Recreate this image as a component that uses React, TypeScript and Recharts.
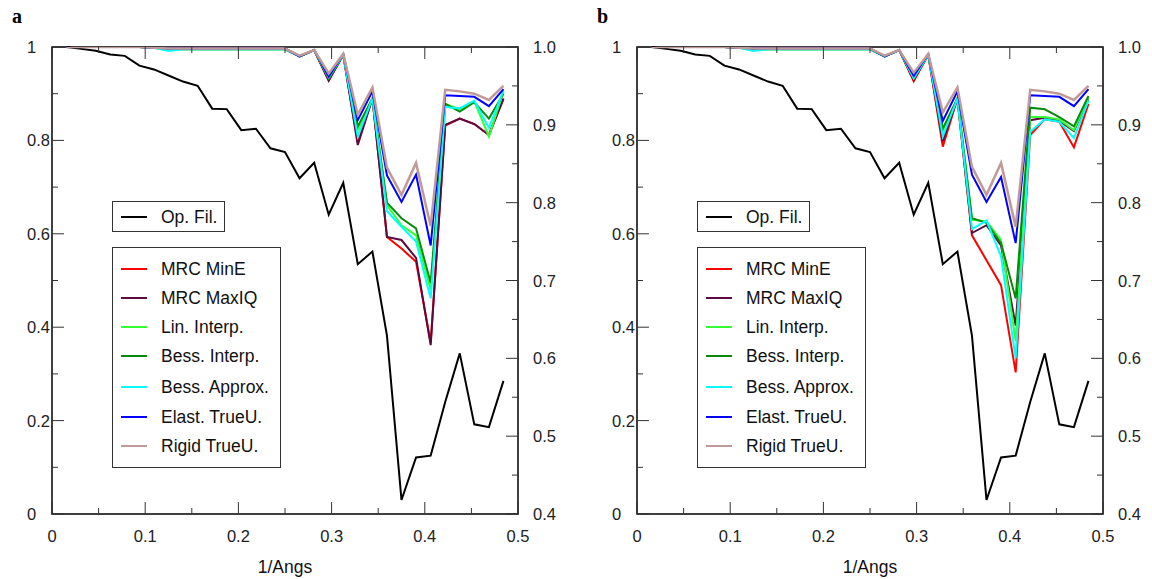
import React from "react";
import { LineChart, Line, XAxis, YAxis, ReferenceArea } from "recharts";

// spatial frequency (1/Angs)
const freq = [
  0.0156, 0.0313, 0.0469, 0.0625, 0.0781, 0.0938, 0.1094, 0.125, 0.1406, 0.1563,
  0.1719, 0.1875, 0.2031, 0.2188, 0.2344, 0.25, 0.2656, 0.2813, 0.2969, 0.3125,
  0.3281, 0.3438, 0.3594, 0.375, 0.3906, 0.4063, 0.4219, 0.4375, 0.4531, 0.4688, 0.4844,
];

// left axis
const opFil = [
  1.0, 0.996, 0.992, 0.984, 0.981, 0.96, 0.952, 0.939, 0.926, 0.917,
  0.868, 0.867, 0.822, 0.825, 0.783, 0.775, 0.719, 0.752, 0.641, 0.709,
  0.535, 0.562, 0.382, 0.03, 0.121, 0.125, 0.24, 0.344, 0.192, 0.186, 0.285,
];

// right axis, panel a
const aMinE = [
  1, 1, 1, 1, 1, 1, 0.999, 0.998, 0.998, 0.998, 0.998, 0.998, 0.998, 0.998, 0.998, 0.998,
  0.988, 0.996, 0.957, 0.99, 0.877, 0.934, 0.756, 0.741, 0.724, 0.62, 0.899, 0.908, 0.901, 0.887, 0.933,
];
const aMaxIQ = [
  1, 1, 1, 1, 1, 1, 0.999, 0.998, 0.998, 0.998, 0.998, 0.998, 0.998, 0.998, 0.998, 0.998,
  0.988, 0.996, 0.957, 0.99, 0.874, 0.934, 0.756, 0.752, 0.729, 0.617, 0.9, 0.908, 0.901, 0.887, 0.934,
];
const aLin = [
  1, 1, 1, 1, 1, 1, 0.999, 0.996, 0.997, 0.997, 0.997, 0.997, 0.997, 0.997, 0.997, 0.997,
  0.988, 0.996, 0.96, 0.99, 0.893, 0.934, 0.797, 0.771, 0.758, 0.688, 0.927, 0.92, 0.93, 0.885, 0.943,
];
const aBessI = [
  1, 1, 1, 1, 1, 1, 0.999, 0.997, 0.997, 0.997, 0.997, 0.997, 0.997, 0.997, 0.997, 0.997,
  0.988, 0.996, 0.96, 0.99, 0.898, 0.934, 0.8, 0.78, 0.767, 0.697, 0.927, 0.917, 0.929, 0.908, 0.94,
];
const aBessA = [
  1, 1, 1, 1, 1, 1, 0.999, 0.995, 0.997, 0.997, 0.997, 0.997, 0.997, 0.997, 0.997, 0.997,
  0.988, 0.996, 0.961, 0.99, 0.885, 0.934, 0.789, 0.769, 0.75, 0.677, 0.923, 0.921, 0.931, 0.896, 0.944,
];
const aElast = [
  1, 1, 1, 1, 1, 1, 0.999, 0.998, 0.998, 0.998, 0.998, 0.998, 0.998, 0.998, 0.998, 0.998,
  0.988, 0.996, 0.962, 0.991, 0.906, 0.943, 0.835, 0.801, 0.836, 0.745, 0.938, 0.937, 0.936, 0.924, 0.946,
];
const aRigid = [
  1, 1, 1, 1, 1, 1, 0.999, 0.998, 0.998, 0.998, 0.998, 0.998, 0.998, 0.998, 0.998, 0.998,
  0.989, 0.996, 0.966, 0.991, 0.913, 0.948, 0.845, 0.81, 0.851, 0.77, 0.945, 0.943, 0.94, 0.932, 0.95,
];

// right axis, panel b
const bMinE = [
  1, 1, 1, 1, 1, 1, 0.999, 0.998, 0.998, 0.998, 0.998, 0.998, 0.998, 0.998, 0.998, 0.998,
  0.988, 0.996, 0.956, 0.99, 0.872, 0.934, 0.758, 0.726, 0.694, 0.582, 0.887, 0.907, 0.904, 0.871, 0.927,
];
const bMaxIQ = [
  1, 1, 1, 1, 1, 1, 0.999, 0.998, 0.998, 0.998, 0.998, 0.998, 0.998, 0.998, 0.998, 0.998,
  0.988, 0.996, 0.958, 0.99, 0.879, 0.934, 0.761, 0.771, 0.745, 0.642, 0.906, 0.909, 0.905, 0.892, 0.933,
];
const bLin = [
  1, 1, 1, 1, 1, 1, 0.999, 0.996, 0.997, 0.997, 0.997, 0.997, 0.997, 0.997, 0.997, 0.997,
  0.988, 0.996, 0.96, 0.99, 0.892, 0.934, 0.778, 0.776, 0.752, 0.622, 0.91, 0.91, 0.907, 0.893, 0.935,
];
const bBessI = [
  1, 1, 1, 1, 1, 1, 0.999, 0.997, 0.997, 0.997, 0.997, 0.997, 0.997, 0.997, 0.997, 0.997,
  0.988, 0.996, 0.961, 0.99, 0.895, 0.934, 0.78, 0.774, 0.748, 0.677, 0.922, 0.92, 0.91, 0.898, 0.937,
];
const bBessA = [
  1, 1, 1, 1, 1, 1, 0.999, 0.995, 0.997, 0.997, 0.997, 0.997, 0.997, 0.997, 0.997, 0.997,
  0.988, 0.996, 0.96, 0.99, 0.885, 0.934, 0.766, 0.777, 0.731, 0.6, 0.891, 0.907, 0.904, 0.883, 0.931,
];
const bElast = [
  1, 1, 1, 1, 1, 1, 0.999, 0.998, 0.998, 0.998, 0.998, 0.998, 0.998, 0.998, 0.998, 0.998,
  0.988, 0.996, 0.963, 0.991, 0.905, 0.943, 0.836, 0.801, 0.833, 0.748, 0.938, 0.937, 0.936, 0.924, 0.946,
];
const bRigid = [
  1, 1, 1, 1, 1, 1, 0.999, 0.998, 0.998, 0.998, 0.998, 0.998, 0.998, 0.998, 0.998, 0.998,
  0.989, 0.996, 0.967, 0.991, 0.916, 0.948, 0.846, 0.81, 0.851, 0.769, 0.945, 0.943, 0.94, 0.932, 0.95,
];

const seriesNames = [
  "MRC MinE",
  "MRC MaxIQ",
  "Lin. Interp.",
  "Bess. Interp.",
  "Bess. Approx.",
  "Elast. TrueU.",
  "Rigid TrueU.",
];
const seriesColors = ["#ff0000", "#5c0a40", "#33ff33", "#0a8a0a", "#00ffff", "#0000ff", "#c09a98"];

const xTicks = [0, 0.05, 0.1, 0.15, 0.2, 0.25, 0.3, 0.35, 0.4, 0.45, 0.5];
const leftTicks = [0, 0.1, 0.2, 0.3, 0.4, 0.5, 0.6, 0.7, 0.8, 0.9, 1];
const rightTicks = [0.4, 0.45, 0.5, 0.55, 0.6, 0.65, 0.7, 0.75, 0.8, 0.85, 0.9, 0.95, 1];

const FONT = "'Liberation Sans', Arial, sans-serif";
const PLOT_TOP = 47;
const TICK_COLOR = "#333";

const XTick = (props: any) => {
  const { x, y, payload } = props;
  const v = payload.value;
  const major = Math.abs(v * 10 - Math.round(v * 10)) < 1e-6;
  const len = major ? 12 : 6;
  const label = v === 0 ? "0" : v.toFixed(1);
  return (
    <g>
      <line x1={x} x2={x} y1={y} y2={y - len} stroke={TICK_COLOR} strokeWidth={1} />
      <line x1={x} x2={x} y1={PLOT_TOP} y2={PLOT_TOP + len} stroke={TICK_COLOR} strokeWidth={1} />
      {major && (
        <text x={x} y={y + 28} textAnchor="middle" fontSize={16.5} fontFamily={FONT} fill="#222">
          {label}
        </text>
      )}
    </g>
  );
};

const LeftTick = (props: any) => {
  const { x, y, payload } = props;
  const v = payload.value;
  const major = Math.round(v * 10) % 2 === 0;
  const len = major ? 12 : 6;
  const label = v === 0 ? "0" : v === 1 ? "1" : v.toFixed(1);
  return (
    <g>
      <line x1={x} x2={x + len} y1={y} y2={y} stroke={TICK_COLOR} strokeWidth={1} />
      {major && (
        <text x={x - 25} y={y + 6} textAnchor="start" fontSize={16.5} fontFamily={FONT} fill="#222">
          {label}
        </text>
      )}
    </g>
  );
};

const RightTick = (props: any) => {
  const { x, y, payload } = props;
  const v = payload.value;
  const major = Math.round(v * 20) % 2 === 0;
  const len = major ? 12 : 6;
  return (
    <g>
      <line x1={x} x2={x - len} y1={y} y2={y} stroke={TICK_COLOR} strokeWidth={1} />
      {major && (
        <text x={x + 15} y={y + 6} textAnchor="start" fontSize={16.5} fontFamily={FONT} fill="#222">
          {v.toFixed(1)}
        </text>
      )}
    </g>
  );
};

const legendRowTops = [20.5, 49.5, 78.5, 108, 138.5, 168.5, 197.5];

function LegendBoxes() {
  const row = (name: string, color: string, top: number) => (
    <div key={name} style={{ position: "absolute", left: 0, top: top - 12, height: 24, width: "100%" }}>
      <div style={{ position: "absolute", left: 8, top: 11, width: 26, height: 2, background: color }} />
      <div
        style={{
          position: "absolute",
          left: 48,
          top: 0,
          lineHeight: "24px",
          fontSize: 17.5,
          fontFamily: FONT,
          color: "#111",
          whiteSpace: "nowrap",
        }}
      >
        {name}
      </div>
    </div>
  );
  return (
    <>
      <div
        style={{
          position: "absolute",
          left: 112,
          top: 201,
          width: 111,
          height: 29,
          border: "1px solid #333",
          background: "#fff",
        }}
      >
        {row("Op. Fil.", "#000", 15)}
      </div>
      <div
        style={{
          position: "absolute",
          left: 112,
          top: 247,
          width: 167,
          height: 219,
          border: "1px solid #333",
          background: "#fff",
        }}
      >
        {seriesNames.map((n, i) => row(n, seriesColors[i], legendRowTops[i]))}
      </div>
    </>
  );
}

function Panel({ left, tag, series }: { left: number; tag: string; series: number[][] }) {
  const data = freq.map((x, i) => {
    const row: any = { x, opFil: opFil[i] };
    series.forEach((s, j) => {
      row["s" + j] = s[i];
    });
    return row;
  });
  return (
    <div style={{ position: "absolute", left, top: 0, width: 567, height: 579 }}>
      <LineChart width={567} height={579} data={data} margin={{ top: 47, left: 12, right: 4, bottom: 15 }}>
        <XAxis
          dataKey="x"
          type="number"
          domain={[0, 0.5]}
          ticks={xTicks}
          interval={0}
          tick={<XTick />}
          tickLine={false}
          tickSize={0}
          tickMargin={0}
          axisLine={false}
          height={50}
        />
        <YAxis
          yAxisId="left"
          orientation="left"
          type="number"
          domain={[0, 1]}
          ticks={leftTicks}
          interval={0}
          tick={<LeftTick />}
          tickLine={false}
          tickSize={0}
          tickMargin={0}
          axisLine={false}
          width={40}
        />
        <YAxis
          yAxisId="right"
          orientation="right"
          type="number"
          domain={[0.4, 1]}
          ticks={rightTicks}
          interval={0}
          tick={<RightTick />}
          tickLine={false}
          tickSize={0}
          tickMargin={0}
          axisLine={false}
          width={45}
          allowDataOverflow
        />
        <ReferenceArea
          yAxisId="left"
          x1={0}
          x2={0.5}
          y1={0}
          y2={1}
          fill="none"
          fillOpacity={0}
          stroke="#000"
          strokeWidth={1.5}
          strokeOpacity={1}
        />
        <Line
          yAxisId="left"
          dataKey="opFil"
          type="linear"
          stroke="#000"
          strokeWidth={2}
          dot={false}
          isAnimationActive={false}
        />
        {series.map((_, j) => (
          <Line
            key={j}
            yAxisId="right"
            dataKey={"s" + j}
            type="linear"
            stroke={seriesColors[j]}
            strokeWidth={j === 6 ? 2.5 : 2}
            dot={false}
            isAnimationActive={false}
          />
        ))}
      </LineChart>
      <LegendBoxes />
      <div
        style={{
          position: "absolute",
          left: 12,
          top: 6,
          fontFamily: "'Liberation Serif', 'Times New Roman', serif",
          fontWeight: "bold",
          fontSize: 20,
          lineHeight: "20px",
          color: "#000",
        }}
      >
        {tag}
      </div>
      <div
        style={{
          position: "absolute",
          left: 52,
          width: 466,
          top: 556,
          textAlign: "center",
          fontFamily: FONT,
          fontSize: 17.5,
          lineHeight: "22px",
          color: "#111",
        }}
      >
        1/Angs
      </div>
    </div>
  );
}

export default function App() {
  return (
    <div style={{ position: "absolute", left: 0, top: 0, width: 1152, height: 579, background: "#fff" }}>
      <Panel left={0} tag="a" series={[aMinE, aMaxIQ, aLin, aBessI, aBessA, aElast, aRigid]} />
      <Panel left={585} tag="b" series={[bMinE, bMaxIQ, bLin, bBessI, bBessA, bElast, bRigid]} />
    </div>
  );
}
